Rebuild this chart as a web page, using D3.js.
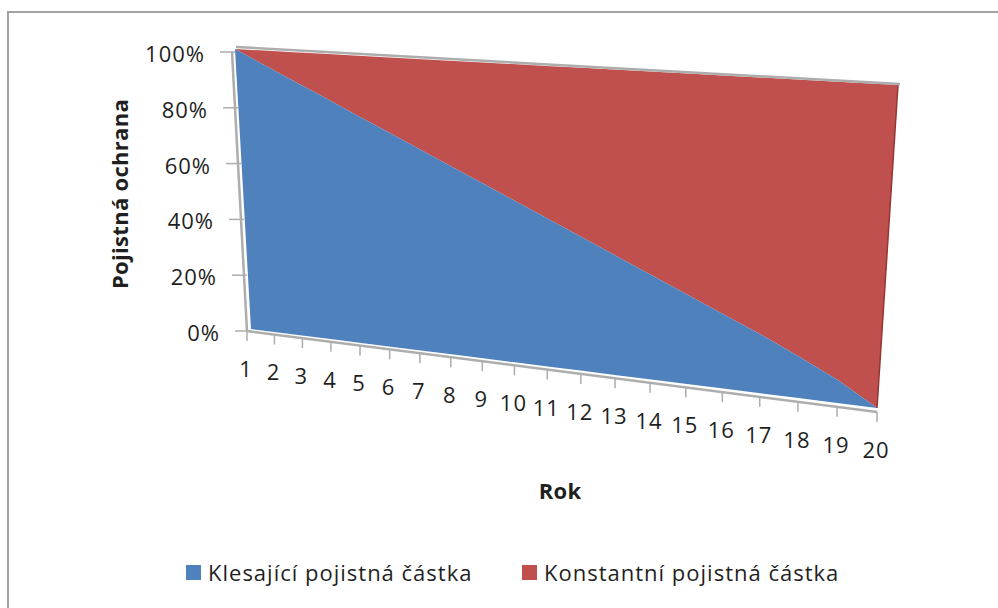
<!DOCTYPE html>
<html lang="cs">
<head>
<meta charset="utf-8">
<script src="https://cdn.jsdelivr.net/npm/d3@7"></script>
<style>
  html, body { margin: 0; padding: 0; background: #fff; }
  svg { display: block; }
  text { font-family: "Open Sans", "Noto Sans", sans-serif; fill: #1f1f1f; font-size: 22px; letter-spacing: 1px; }
  text.title { font-weight: 700; letter-spacing: 0.3px; }
</style>
</head>
<body>
<svg id="chart" width="998" height="608"></svg>
<script>
// Insurance cover over the policy term, 3D 100% area chart
const years = d3.range(1, 21);
const decreasingCover = [100, 94.8, 89.7, 84.6, 79.4, 74.3, 69.2, 64.1, 59, 53.9, 48.8, 43.7, 38.6, 33.5, 28.4, 23.3, 18.3, 12.8, 7, 0];
const constantCover = [100, 100, 100, 100, 100, 100, 100, 100, 100, 100, 100, 100, 100, 100, 100, 100, 100, 100, 100, 100];
const percentTicks = [0, 20, 40, 60, 80, 100];
const seriesNames = ["Klesající pojistná částka", "Konstantní pojistná částka"];
const seriesColors = ["#4f81bd", "#c0504d"];

const svg = d3.select("#chart");

// Outer chart frame
svg.append("path")
  .attr("d", "M8,608V12H998")
  .attr("fill", "none")
  .attr("stroke", "#a3a3a3")
  .attr("stroke-width", 2);

// Corners of the tilted plot plane
const wall = {
  floorLeft: [251, 329], floorRight: [877, 408],
  topLeft: [235, 49], topRight: [898, 85]
};

// Year runs into the picture, so its steps widen towards the viewer
const yearScale = d3.scaleLinear().domain([1, 20]).range([0, 1]);
const foreshorten = t => t / (1.22 - 0.22 * t);
const percentScale = d3.scaleLinear().domain([0, 100]).range([0, 1]);

function project(year, pct, quad = wall) {
  const u = foreshorten(yearScale(year));
  const v = percentScale(pct);
  const lerp = i =>
    (1 - v) * ((1 - u) * quad.floorLeft[i] + u * quad.floorRight[i]) +
    v * ((1 - u) * quad.topLeft[i] + u * quad.topRight[i]);
  return [lerp(0), lerp(1)];
}

const line = d3.line();

// Red band from the decreasing curve up to 100 %
svg.append("path")
  .attr("d", line([
    ...years.map((y, i) => project(y, constantCover[i])),
    ...years.map((y, i) => project(y, decreasingCover[i])).reverse()
  ]) + "Z")
  .attr("fill", seriesColors[1]);

// Blue area under the decreasing curve
svg.append("path")
  .attr("d", line([
    ...years.map(y => project(y, 0)),
    ...years.map((y, i) => project(y, decreasingCover[i])).reverse()
  ]) + "Z")
  .attr("fill", seriesColors[0]);

// Dark shaded right edge of the red band
svg.append("path")
  .attr("d", line([project(20, 0), project(20, 100)]))
  .attr("stroke", "#943634")
  .attr("stroke-width", 1.5)
  .attr("fill", "none");

// Axis lines sit just off the plane
const axisQuad = {
  floorLeft: [247, 331], floorRight: [877, 412],
  topLeft: [232, 52], topRight: [900, 84]
};
const axisColor = "#adadad";
const axisLine = (a, b, width) => svg.append("path")
  .attr("d", line([a, b]))
  .attr("stroke", axisColor)
  .attr("stroke-width", width)
  .attr("fill", "none");

axisLine(project(1, 0, axisQuad), project(1, 100, axisQuad), 2.5);
axisLine(project(1, 0, axisQuad), project(20, 0, axisQuad), 2.5);
axisLine([236, 47], [900, 84], 2.5);

// Percent axis
percentTicks.forEach(p => {
  const [x, y] = project(1, p, axisQuad);
  axisLine([x - 12, y], [x + 3, y], 1.5);
  svg.append("text")
    .attr("x", x - 27)
    .attr("y", y + 2)
    .attr("dy", "0.36em")
    .attr("text-anchor", "end")
    .text(d3.format(".0%")(p / 100));
});

// Year axis
years.forEach(year => {
  const [x, y] = project(year, 0, axisQuad);
  axisLine([x, y], [x, y + 10], 1.5);
  svg.append("text")
    .attr("x", x - 1)
    .attr("y", y + 38)
    .attr("dy", "0.36em")
    .attr("text-anchor", "middle")
    .text(year);
});

// Axis titles
svg.append("text")
  .attr("class", "title")
  .attr("transform", "translate(120,194) rotate(-90)")
  .attr("dy", "0.36em")
  .attr("text-anchor", "middle")
  .text("Pojistná ochrana");

svg.append("text")
  .attr("class", "title")
  .attr("x", 560)
  .attr("y", 491)
  .attr("dy", "0.36em")
  .attr("text-anchor", "middle")
  .text("Rok");

// Legend
const legendX = d3.scaleOrdinal().domain(seriesNames).range([186, 522]);
const legend = svg.append("g").selectAll("g").data(seriesNames).join("g")
  .attr("transform", d => `translate(${legendX(d)},573)`);
legend.append("rect")
  .attr("y", -8).attr("width", 15).attr("height", 15)
  .attr("fill", (d, i) => seriesColors[i]);
legend.append("text")
  .attr("x", 22)
  .attr("dy", "0.36em")
  .text(d => d);
</script>
</body>
</html>
